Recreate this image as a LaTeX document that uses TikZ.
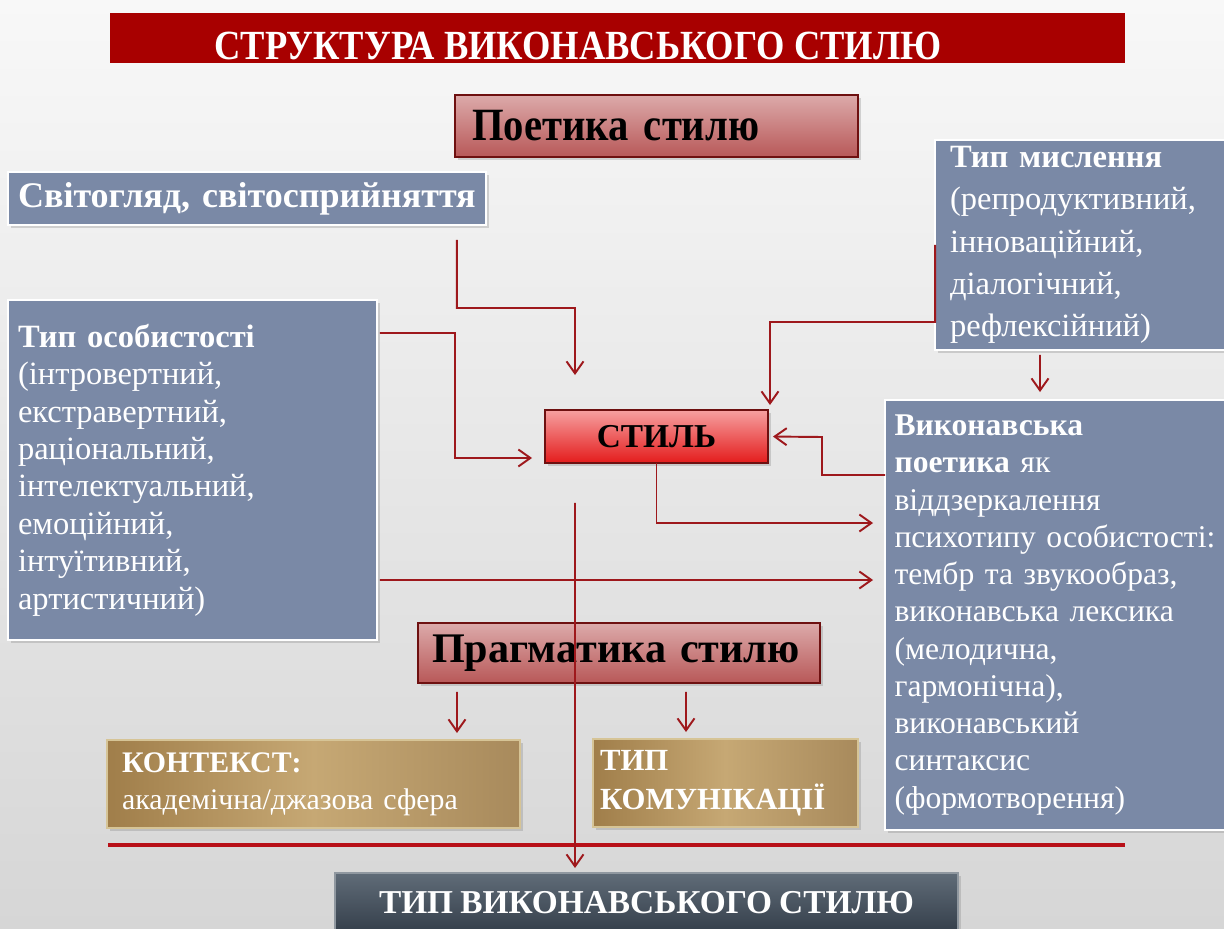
\documentclass[tikz,border=0pt]{standalone}
\usepackage{fontspec}
\setmainfont{Liberation Serif}[WordSpace=0.85]
\newfontfamily\narrowfont[FakeStretch=0.88]{Liberation Serif}
\usepackage{xcolor}
\usetikzlibrary{arrows.meta, positioning, calc, shadows}
\definecolor{bgtop}{RGB}{248,248,248}
\definecolor{bgbot}{RGB}{214,214,214}
\definecolor{barred}{RGB}{168,0,0}
\definecolor{slate}{RGB}{122,137,166}
\definecolor{headtop}{RGB}{220,170,170}
\definecolor{headbot}{RGB}{184,88,88}
\definecolor{headdraw}{RGB}{110,16,16}
\definecolor{stiltop}{RGB}{246,160,160}
\definecolor{stilbot}{RGB}{228,28,28}
\definecolor{goldleft}{RGB}{160,126,74}
\definecolor{goldmid}{RGB}{198,168,116}
\definecolor{goldright}{RGB}{168,138,92}
\definecolor{golddraw}{RGB}{214,196,150}
\definecolor{darktop}{RGB}{96,108,120}
\definecolor{darkbot}{RGB}{52,62,74}
\definecolor{linered}{RGB}{158,24,28}
\definecolor{rulered}{RGB}{184,16,24}

\begin{document}
\begin{tikzpicture}[x=0.02cm, y=-0.02cm,
    every node/.style={outer sep=0pt},
    shade/.style={drop shadow={opacity=0.3, shadow xshift=0.06cm, shadow yshift=-0.06cm}},
    panel/.style={shade, fill=slate, draw=white, line width=1.5pt, text=white, align=left,
        inner ysep=0pt, font=\fontsize{18.5}{21.3}\selectfont},
    head/.style={shade, top color=headtop, bottom color=headbot, draw=headdraw, line width=1.2pt,
        inner ysep=0pt, align=left},
    gold/.style={shade, left color=goldleft, right color=goldright, middle color=goldmid,
        draw=golddraw, line width=1pt, text=white, align=left, inner ysep=0pt},
    arr/.style={draw=linered, line width=1.1pt, -{Straight Barb[length=0.24cm, width=0.34cm]}}]

    \useasboundingbox (0,0) rectangle (1224,929);
    \fill[top color=bgtop, bottom color=bgbot] (0,0) rectangle (1224,929);

    \node[fill=barred, minimum width=20.3cm, minimum height=1cm, inner sep=0pt] (bar) at (617.5,38) {};
    \node[anchor=base, inner sep=0pt, text=white,
        font=\narrowfont\bfseries\fontsize{23.6}{26}\selectfont] (title) at (578,60) {СТРУКТУРА ВИКОНАВСЬКОГО СТИЛЮ};

    \node[head, text width=7.38cm, inner xsep=0.34cm, minimum height=1.24cm,
        font=\narrowfont\bfseries\fontsize{26.3}{30}\selectfont] (poet) at (656.5,126) {Поетика стилю};
    \node[panel, text width=9.16cm, inner xsep=0.2cm, minimum height=1.06cm,
        font=\bfseries\fontsize{20.5}{24}\selectfont] (svit) at (247,198.5) {Світогляд, світосприйняття};
    \node[panel, text width=5.24cm, inner xsep=0.3cm, minimum height=4.2cm,
        font=\fontsize{18.5}{24.1}\selectfont] (mysl) at (1081,245)
        {\textbf{Тип мислення}\\(репродуктивний,\\інноваційний,\\діалогічний,\\рефлексійний)};
    \node[panel, text width=6.98cm, inner xsep=0.2cm, minimum height=6.8cm] (osob) at (192.5,470)
        {\textbf{Тип особистості}\\(інтровертний,\\екстравертний,\\раціональний,\\інтелектуальний,\\емоційний,\\інтуїтивний,\\артистичний)};
    \node[shade, top color=stiltop, bottom color=stilbot, draw=headdraw, line width=1.2pt,
        minimum width=4.46cm, minimum height=1.06cm, inner sep=0pt,
        font=\bfseries\fontsize{19}{22}\selectfont] (stil) at (656.5,436.5) {СТИЛЬ};
    \node[panel, text width=6.44cm, inner xsep=0.19cm, minimum height=8.6cm,
        font=\fontsize{18}{21.2}\selectfont] (vykon) at (1055.5,615)
        {\textbf{Виконавська}\\\textbf{поетика} як\\віддзеркалення\\психотипу особистості:\\тембр та звукообраз,\\виконавська лексика\\(мелодична,\\гармонічна),\\виконавський\\синтаксис\\(формотворення)};
    \node[head, text width=7.48cm, inner xsep=0.28cm, minimum height=1.2cm,
        font=\bfseries\fontsize{24}{28}\selectfont] (prag) at (619,653) {Прагматика стилю};
    \node[gold, text width=7.66cm, inner xsep=0.3cm, minimum height=1.76cm,
        font=\fontsize{17}{21.3}\selectfont] (kont) at (313.5,784)
        {\textbf{КОНТЕКСТ:}\\академічна/джазова сфера};
    \node[gold, text width=5.02cm, inner xsep=0.14cm, minimum height=1.76cm,
        font=\bfseries\fontsize{17.5}{22}\selectfont] (komun) at (725.5,783)
        {ТИП\\КОМУНІКАЦІЇ};

    \draw[rulered, line width=2pt] (108,845) -- (1125,845);
    \node[shade, top color=darktop, bottom color=darkbot, draw=darktop!70!white, line width=1pt,
        minimum width=12.46cm, minimum height=1.2cm, inner sep=0pt, text=white,
        font=\bfseries\fontsize{19}{22}\selectfont] (final) at (646.5,903) {ТИП ВИКОНАВСЬКОГО СТИЛЮ};

    \draw[arr, shorten <=0.3cm, shorten >=0.7cm] ([xshift=4.2cm]svit.south) |- (575,308) -- ([xshift=0.6cm]stil.north west);
    \draw[arr, shorten <=0.06cm, shorten >=0.26cm] ([yshift=-0.66cm]osob.north east) -| (455,458) -- ([yshift=-0.43cm]stil.west);
    \draw[arr, shorten >=0.1cm] (mysl.west) |- (770,322) -- ([xshift=0.04cm]stil.north east);
    \draw[arr, shorten <=0.1cm, shorten >=0.16cm] ([xshift=-0.82cm]mysl.south) -- ([xshift=-0.31cm]vykon.north);
    \draw[arr, shorten >=0.1cm] ([yshift=-1.5cm]vykon.north west) -| (822,437) -- (stil.east);
    \draw[arr, shorten >=0.24cm] (stil.south) |- ([yshift=-2.46cm]vykon.north west);
    \draw[arr, shorten <=0.06cm, shorten >=0.24cm] ([yshift=1.2cm]osob.south east) -- ([yshift=-3.6cm]vykon.north west);
    \draw[arr, shorten <=0.8cm, shorten >=0.1cm] ([xshift=0.6cm]stil.south west) -- ([xshift=-1.43cm]final.north);
    \draw[arr, shorten <=0.18cm, shorten >=0.14cm] ([xshift=-3.24cm]prag.south) -- ([xshift=2.87cm]kont.north);
    \draw[arr, shorten <=0.18cm, shorten >=0.14cm] ([xshift=1.34cm]prag.south) -- ([xshift=-0.79cm]komun.north);
\end{tikzpicture}
\end{document}
